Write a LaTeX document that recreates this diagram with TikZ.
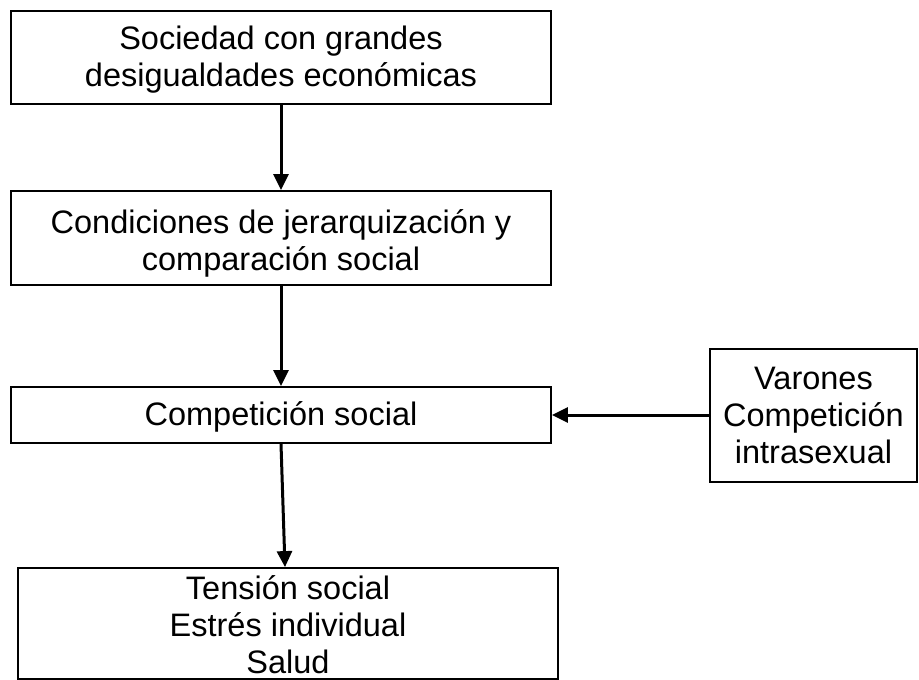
\documentclass[tikz,border=0pt]{standalone}
\usepackage{fontspec}
\setmainfont{Liberation Sans}
\usetikzlibrary{arrows.meta}
\tikzset{
  boxnode/.style={draw, line width=1.8pt, inner sep=0pt},
  boxtext/.style={inner sep=0pt, align=center, font=\fontsize{32.5}{37}\selectfont},
  flowarrow/.style={line width=3pt, -{Triangle[width=15pt,length=16pt]}},
}
\begin{document}
\begin{tikzpicture}[x=1pt,y=-1pt]
\useasboundingbox (0,0) rectangle (919,680);
\node[boxnode, minimum width=540pt, minimum height=93pt] (b1) at (281,57.5) {};
\node[boxnode, minimum width=540pt, minimum height=94pt] (b2) at (281,238) {};
\node[boxnode, minimum width=540pt, minimum height=56pt] (b3) at (281,415) {};
\node[boxnode, minimum width=207pt, minimum height=133pt] (b5) at (813.5,415.5) {};
\node[boxnode, minimum width=540pt, minimum height=111pt] (b4) at (288,623.5) {};
\node[boxtext] (t1) at ([yshift=-2.5pt]b1.center) {Sociedad con grandes\\desigualdades económicas};
\node[boxtext] (t2) at ([yshift=-5pt]b2.center) {Condiciones de jerarquización y\\comparación social};
\node[boxtext] (t3) at ([yshift=-2pt]b3.center) {Competición social};
\node[boxtext] (t5) at (b5.center) {Varones\\Competición\\intrasexual};
\node[boxtext] (t4) at ([yshift=-1pt]b4.center) {Tensión social\\Estrés individual\\Salud};
\draw[flowarrow] (b1.south) -- (b2.north);
\draw[flowarrow] (b2.south) -- (b3.north);
\draw[flowarrow] (b3.south) -- ([xshift=-3pt]b4.north);
\draw[flowarrow] (b5.west |- b3.east) -- (b3.east);
\end{tikzpicture}
\end{document}
